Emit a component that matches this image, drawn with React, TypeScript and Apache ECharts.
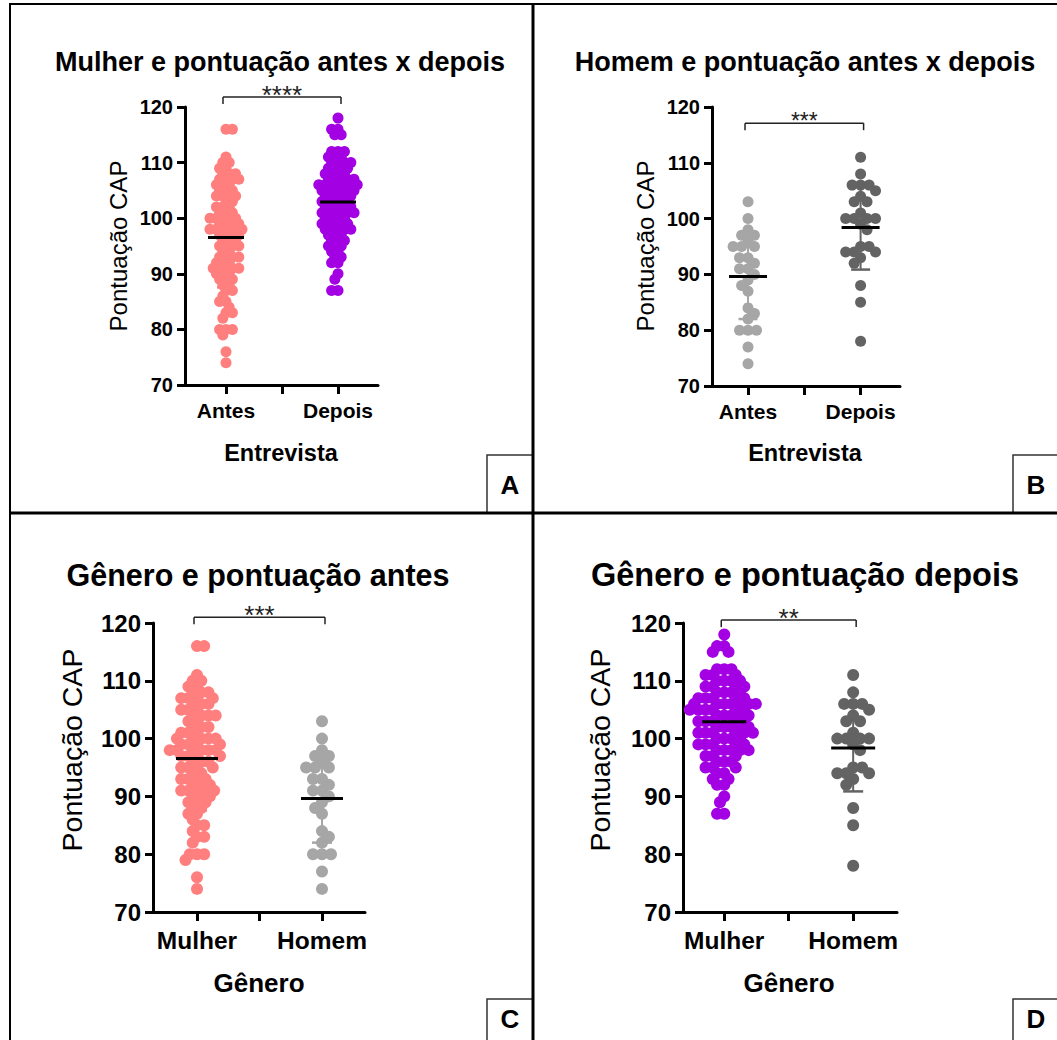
import React, { useEffect, useRef } from "react";
import * as echarts from "echarts";

// ---------- data ----------
const catsEntrevista = ["Antes", "Depois"];
const catsGenero = ["Mulher", "Homem"];
const yTickValues = [70, 80, 90, 100, 110, 120];

const mulherAntes = [
  116, 116, 111, 110, 110, 109, 109, 108, 108, 108, 107, 107, 107, 107, 106, 106, 106, 105, 105, 105,
  104, 104, 104, 104, 103, 103, 102, 102, 102, 101, 101, 101, 100, 100, 100, 100, 100, 99, 99, 99, 99,
  98, 98, 98, 98, 98, 98, 97, 97, 97, 97, 96, 96, 96, 95, 95, 95, 95, 94, 94, 93, 93, 93, 93, 92, 92,
  92, 91, 91, 91, 91, 91, 90, 90, 90, 89, 89, 89, 88, 88, 87, 87, 86, 85, 85, 84, 83, 83, 82, 80, 80,
  80, 79, 76, 74,
];
const mulherDepois = [
  118, 116, 116, 115, 115, 112, 112, 112, 111, 111, 111, 110, 110, 110, 110, 109, 109, 109, 109, 108,
  108, 108, 108, 107, 107, 107, 107, 107, 106, 106, 106, 106, 106, 106, 106, 105, 105, 105, 105, 105,
  105, 104, 104, 104, 104, 104, 103, 103, 103, 103, 103, 102, 102, 102, 102, 102, 101, 101, 101, 101,
  101, 101, 100, 100, 100, 100, 99, 99, 99, 99, 99, 98, 98, 98, 98, 98, 97, 97, 97, 96, 96, 96, 95, 95,
  95, 94, 94, 93, 93, 92, 92, 90, 89, 87, 87,
];
const homemAntes = [
  103, 100, 98, 97, 97, 96, 95, 95, 95, 93, 93, 92, 91, 91, 90, 89, 88, 87, 84, 83, 82, 80, 80, 80, 77, 74,
];
const homemDepois = [
  111, 108, 106, 106, 106, 105, 104, 103, 103, 101, 100, 100, 100, 100, 99, 98, 95, 95, 94, 94, 94, 93,
  92, 88, 85, 78,
];
const starsLabels = ["****", "***", "***", "**"];
const bracketValues = [121.8, 117.1, 121.0, 120.5];

// ---------- style ----------
const PINK = "#FF7F7F";
const PURPLE = "#A300E3";
const LGRAY = "#A6A6A6";
const DGRAY = "#636363";
const FONT = "'Liberation Sans', Arial, sans-serif";

const panels = [
  {
    grid: { left: 185, top: 107, width: 193, height: 278 },
    xMin: 0.634, xMax: 2.357,
    groups: [mulherAntes, mulherDepois], colors: [PINK, PURPLE], cats: catsEntrevista, ds: [6.4, 6.4],
    title: "Mulher e pontuação antes x depois", titlePos: [280, 62], titleSize: 27,
    yTitlePos: [118, 246], xTitle: "Entrevista", xTitlePos: [281, 453],
    symbol: 11, meanHalf: 18, capHalf: 9, tickFont: 20, catFont: 21, yTitleFont: 24, xTitleFont: 23.5,
    starFont: 26, catMargin: 15, tickMargin: 12,
  },
  {
    grid: { left: 712, top: 107, width: 188, height: 279 },
    xMin: 0.68, xMax: 2.35,
    groups: [homemAntes, homemDepois], colors: [LGRAY, DGRAY], cats: catsEntrevista, ds: [8.5, 8.5],
    title: "Homem e pontuação antes x depois", titlePos: [805, 62], titleSize: 27,
    yTitlePos: [645, 246], xTitle: "Entrevista", xTitlePos: [805, 453],
    symbol: 11, meanHalf: 19, capHalf: 9.5, tickFont: 20, catFont: 21, yTitleFont: 24, xTitleFont: 23.5,
    starFont: 23, catMargin: 15, tickMargin: 12,
  },
  {
    grid: { left: 153, top: 623, width: 212, height: 289 },
    xMin: 0.648, xMax: 2.344,
    groups: [mulherAntes, homemAntes], colors: [PINK, LGRAY], cats: catsGenero, ds: [7.2, 9],
    title: "Gênero e pontuação antes", titlePos: [258, 575], titleSize: 30.5,
    yTitlePos: [72, 750], xTitle: "Gênero", xTitlePos: [259, 983],
    symbol: 12, meanHalf: 21, capHalf: 10, tickFont: 24, catFont: 24.5, yTitleFont: 28.5, xTitleFont: 26,
    starFont: 26, catMargin: 16, tickMargin: 12,
  },
  {
    grid: { left: 683, top: 623, width: 214, height: 289 },
    xMin: 0.68, xMax: 2.34,
    groups: [mulherDepois, homemDepois], colors: [PURPLE, DGRAY], cats: catsGenero, ds: [7.2, 9],
    title: "Gênero e pontuação depois", titlePos: [805, 575], titleSize: 32.5,
    yTitlePos: [600, 750], xTitle: "Gênero", xTitlePos: [789, 983],
    symbol: 12, meanHalf: 22, capHalf: 10, tickFont: 24, catFont: 24.5, yTitleFont: 28.5, xTitleFont: 26,
    starFont: 26, catMargin: 16, tickMargin: 12,
  },
];

function meanSd(v: number[]) {
  const m = v.reduce((a, b) => a + b, 0) / v.length;
  const s = Math.sqrt(v.reduce((a, b) => a + (b - m) * (b - m), 0) / (v.length - 1));
  return [m, s];
}

// beeswarm layout: returns pixel offsets
function swarm(values: number[], pxPerY: number, d: number): number[] {
  const idx = values.map((_, i) => i).sort((a, b) => values[b] - values[a]);
  const placed: { x: number; y: number }[] = [];
  const out = new Array(values.length).fill(0);
  let flip = 1;
  for (const i of idx) {
    const y = values[i] * pxPerY;
    const near = placed.filter((p) => Math.abs(p.y - y) < d);
    const cands = [0];
    for (const p of near) {
      const dx = Math.sqrt(d * d - (p.y - y) * (p.y - y));
      cands.push(p.x - dx, p.x + dx);
    }
    const f = flip;
    cands.sort((a, b) => Math.abs(a) - Math.abs(b) || f * (a - b));
    let best = 0;
    for (const c of cands) {
      if (near.every((p) => (p.x - c) * (p.x - c) + (p.y - y) * (p.y - y) >= d * d - 1e-6)) {
        best = c;
        break;
      }
    }
    flip = -flip;
    placed.push({ x: best, y });
    out[i] = best;
  }
  return out;
}

function buildOption() {
  const grid: any[] = [];
  const xAxis: any[] = [];
  const yAxis: any[] = [];
  const series: any[] = [];
  const graphic: any[] = [];

  panels.forEach((p, pi) => {
    grid.push({ ...p.grid, containLabel: false });
    const cats = p.cats;
    xAxis.push({
      gridIndex: pi, type: "value", min: p.xMin, max: p.xMax,
      axisLine: { show: true, onZero: false, lineStyle: { color: "#000", width: 3 } },
      axisTick: { show: true, customValues: [1, 1.5, 2], length: 9, lineStyle: { color: "#000", width: 3 } },
      axisLabel: {
        show: true, customValues: [1, 2], margin: p.catMargin,
        formatter: (v: number) => cats[Math.round(v) - 1] || "",
        color: "#000", fontWeight: "bold", fontSize: p.catFont, fontFamily: FONT,
      },
      splitLine: { show: false },
    });
    yAxis.push({
      gridIndex: pi, type: "value", min: yTickValues[0], max: yTickValues[yTickValues.length - 1], interval: 10,
      axisLine: { show: true, lineStyle: { color: "#000", width: 3 } },
      axisTick: { show: true, length: 8, lineStyle: { color: "#000", width: 3 } },
      axisLabel: { show: true, margin: p.tickMargin, color: "#000", fontWeight: "bold", fontSize: p.tickFont, fontFamily: FONT },
      splitLine: { show: false },
    });

    const pxPerY = p.grid.height / 50;
    const pxPerX = p.grid.width / (p.xMax - p.xMin);
    const statsData: any[] = [];
    p.groups.forEach((vals, gi) => {
      const offs = swarm(vals, pxPerY, p.ds[gi]);
      series.push({
        type: "scatter", xAxisIndex: pi, yAxisIndex: pi, symbol: "circle", symbolSize: p.symbol,
        itemStyle: { color: p.colors[gi], opacity: 1 }, z: 2, silent: true,
        data: vals.map((v, i) => [gi + 1 + offs[i] / pxPerX, v]),
      });
      const [m, s] = meanSd(vals);
      statsData.push([gi + 1, m, s, gi]);
    });
    const colors = p.colors;
    const meanHalf = p.meanHalf;
    const capHalf = p.capHalf;
    series.push({
      type: "custom", xAxisIndex: pi, yAxisIndex: pi, z: 5, silent: true, data: statsData,
      renderItem: (params: any, api: any) => {
        const x = api.value(0), m = api.value(1), s = api.value(2), g = api.value(3);
        const c = api.coord([x, m]);
        const t = api.coord([x, m + s]);
        const b = api.coord([x, m - s]);
        const col = colors[g];
        return {
          type: "group",
          children: [
            { type: "line", shape: { x1: c[0], y1: t[1], x2: c[0], y2: b[1] }, style: { stroke: col, lineWidth: 2 } },
            { type: "line", shape: { x1: c[0] - capHalf, y1: t[1], x2: c[0] + capHalf, y2: t[1] }, style: { stroke: col, lineWidth: 2.5 } },
            { type: "line", shape: { x1: c[0] - capHalf, y1: b[1], x2: c[0] + capHalf, y2: b[1] }, style: { stroke: col, lineWidth: 2.5 } },
            { type: "line", shape: { x1: c[0] - meanHalf, y1: c[1], x2: c[0] + meanHalf, y2: c[1] }, style: { stroke: "#000", lineWidth: 3 } },
          ],
        };
      },
    });
    const stars = starsLabels[pi];
    const starFont = p.starFont;
    series.push({
      type: "custom", xAxisIndex: pi, yAxisIndex: pi, z: 5, silent: true, clip: false,
      data: [[1, 2, bracketValues[pi]]],
      renderItem: (params: any, api: any) => {
        const a = api.coord([api.value(0), api.value(2)]);
        const b = api.coord([api.value(1), api.value(2)]);
        return {
          type: "group",
          children: [
            { type: "line", shape: { x1: a[0] - 3, y1: a[1], x2: b[0] + 3, y2: b[1] }, style: { stroke: "#222", lineWidth: 1.5 } },
            { type: "line", shape: { x1: a[0] - 3, y1: a[1], x2: a[0] - 3, y2: a[1] + 7 }, style: { stroke: "#222", lineWidth: 1.5 } },
            { type: "line", shape: { x1: b[0] + 3, y1: b[1], x2: b[0] + 3, y2: b[1] + 7 }, style: { stroke: "#222", lineWidth: 1.5 } },
            {
              type: "text",
              style: {
                text: stars, x: (a[0] + b[0]) / 2, y: a[1] - 2,
                textAlign: "center", align: "center", textVerticalAlign: "middle", verticalAlign: "middle",
                font: `${starFont}px ${FONT}`, fill: "#222",
              },
            },
          ],
        };
      },
    });

    graphic.push({
      type: "text", x: p.titlePos[0], y: p.titlePos[1],
      style: { text: p.title, font: `bold ${p.titleSize}px ${FONT}`, fill: "#000", textAlign: "center", textVerticalAlign: "middle" },
    });
    graphic.push({
      type: "text", x: p.yTitlePos[0], y: p.yTitlePos[1], rotation: Math.PI / 2,
      style: { text: "Pontuação CAP", font: `${p.yTitleFont}px ${FONT}`, fill: "#000", textAlign: "center", textVerticalAlign: "middle" },
    });
    graphic.push({
      type: "text", x: p.xTitlePos[0], y: p.xTitlePos[1],
      style: { text: p.xTitle, font: `bold ${p.xTitleFont}px ${FONT}`, fill: "#000", textAlign: "center", textVerticalAlign: "middle" },
    });
  });

  // frame and dividers
  const ln = (x1: number, y1: number, x2: number, y2: number, w: number) => ({
    type: "line", shape: { x1, y1, x2, y2 }, style: { stroke: "#000", lineWidth: w }, z: 10,
  });
  graphic.push(ln(9, 4, 1057, 4, 2));
  graphic.push(ln(10, 3, 10, 1040, 2));
  graphic.push(ln(9, 513, 1057, 513, 3));
  graphic.push(ln(533, 3, 533, 1040, 3));

  const boxes = [
    { t: "A", x: 487, y: 455, w: 46, h: 58, ty: 485 },
    { t: "B", x: 1013, y: 455, w: 50, h: 58, ty: 485 },
    { t: "C", x: 487, y: 999, w: 46, h: 50, ty: 1019 },
    { t: "D", x: 1013, y: 999, w: 50, h: 50, ty: 1019 },
  ];
  boxes.forEach((b) => {
    graphic.push({ type: "rect", shape: { x: b.x, y: b.y, width: b.w, height: b.h }, style: { fill: "#fff", stroke: "#333", lineWidth: 1.5 }, z: 9 });
    graphic.push({
      type: "text", x: b.x + 23, y: b.ty, z: 11,
      style: { text: b.t, font: `bold 26px ${FONT}`, fill: "#000", textAlign: "center", textVerticalAlign: "middle" },
    });
  });

  return { animation: false, backgroundColor: "#fff", grid, xAxis, yAxis, series, graphic };
}

export default function App() {
  const ref = useRef<HTMLDivElement>(null);
  useEffect(() => {
    if (!ref.current) return;
    const chart = echarts.init(ref.current, undefined, { renderer: "svg" });
    chart.setOption(buildOption() as any);
    return () => chart.dispose();
  }, []);
  return (
    <div
      ref={ref}
      style={{ position: "fixed", left: 0, top: 0, width: 1057, height: 1040, background: "#fff" }}
    />
  );
}
